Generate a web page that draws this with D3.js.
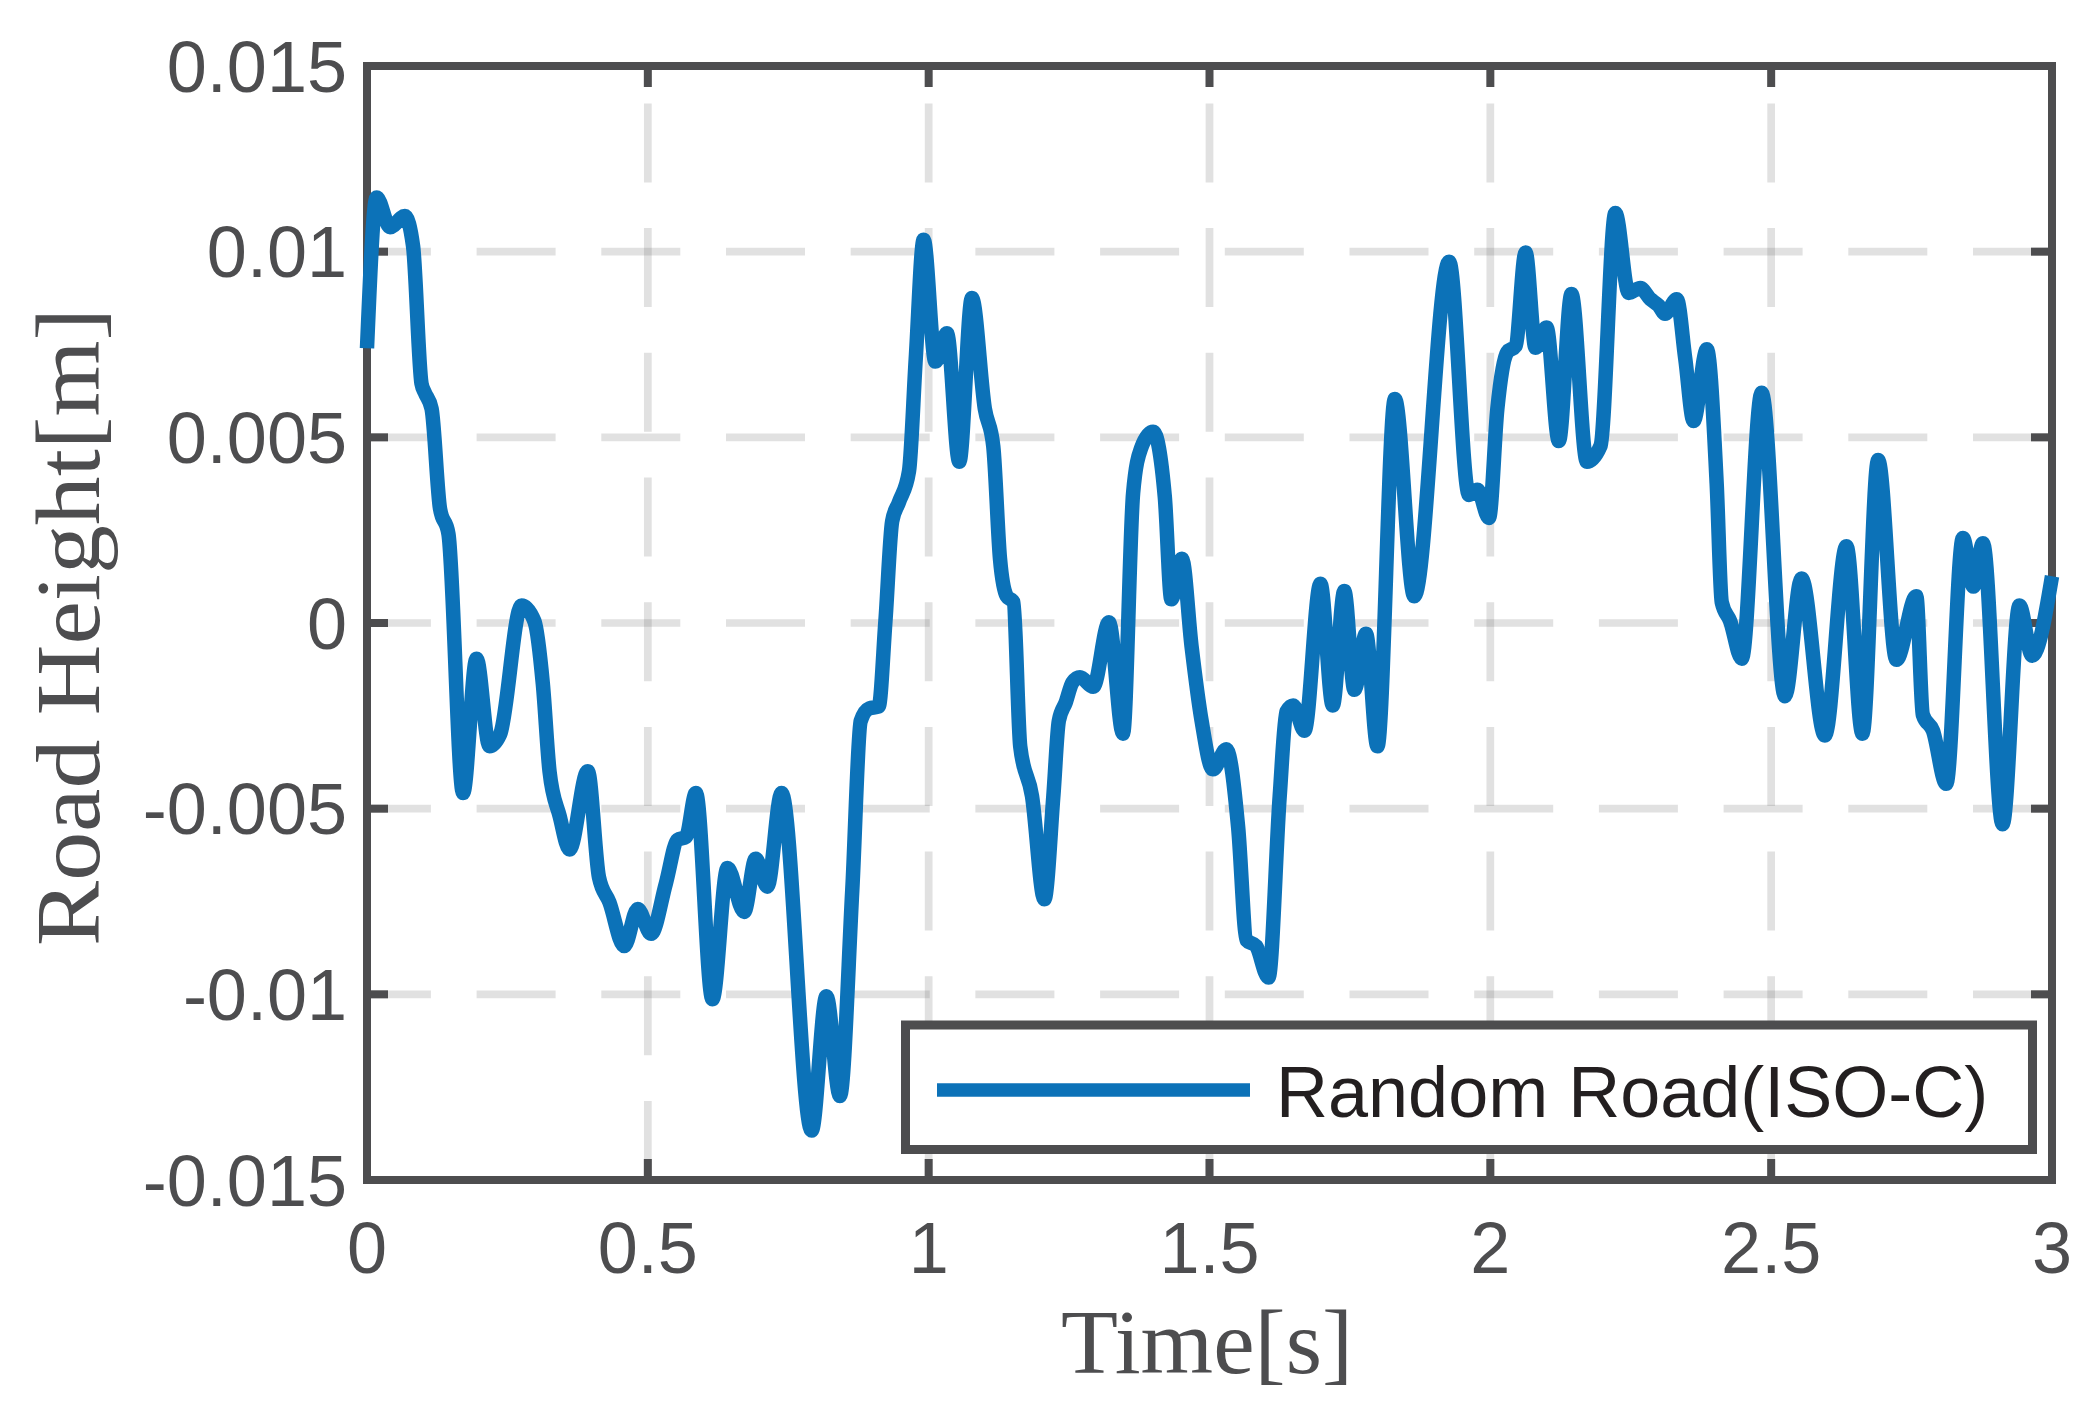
<!DOCTYPE html>
<html>
<head>
<meta charset="utf-8">
<script src="https://cdn.jsdelivr.net/npm/d3@7"></script>
<style>
  html, body { margin: 0; padding: 0; background: #ffffff; }
  svg { display: block; }
</style>
</head>
<body>
<svg id="chart" width="2085" height="1416"></svg>
<script>
// ---- data ----
const times = [0, 0.0172, 0.041, 0.0675, 0.082, 0.097, 0.103, 0.115, 0.13, 0.145, 0.171, 0.195, 0.218, 0.237,
  0.275, 0.298, 0.313, 0.325, 0.343, 0.3606, 0.393, 0.413, 0.4316, 0.458, 0.482, 0.5057, 0.532, 0.553, 0.568,
  0.5856, 0.615, 0.6418, 0.6714, 0.692, 0.7128, 0.738, 0.7916, 0.818, 0.842, 0.864, 0.879, 0.894, 0.911, 0.923,
  0.935, 0.947, 0.965, 0.977, 0.991, 1.012, 1.0325, 1.0545, 1.077, 1.1, 1.115, 1.127, 1.139, 1.151, 1.163, 1.184,
  1.206, 1.222, 1.2317, 1.244, 1.256, 1.2694, 1.293, 1.321, 1.346, 1.364, 1.378, 1.3996, 1.4204, 1.432, 1.451,
  1.468, 1.486, 1.506, 1.53, 1.551, 1.566, 1.583, 1.605, 1.625, 1.637, 1.649, 1.669, 1.6975, 1.7194, 1.74, 1.758,
  1.7786, 1.799, 1.83, 1.8645, 1.9266, 1.962, 1.977, 1.9976, 2.0125, 2.03, 2.045, 2.0627, 2.0805, 2.1, 2.122,
  2.1444, 2.172, 2.196, 2.2226, 2.2464, 2.267, 2.285, 2.2996, 2.311, 2.332, 2.347, 2.3618, 2.3855, 2.403, 2.412,
  2.427, 2.4476, 2.483, 2.5245, 2.554, 2.5956, 2.634, 2.6625, 2.6904, 2.723, 2.7584, 2.77, 2.788, 2.8117, 2.8414,
  2.86, 2.877, 2.912, 2.942, 2.9645, 3.0];
const heights = [0.0074, 0.01146, 0.01066, 0.01096, 0.01015, 0.00645, 0.0062, 0.00577, 0.00308, 0.0024, -0.00458,
  -0.00096, -0.00332, -0.0030, 0.00047, 0.00005, -0.00163, -0.0040, -0.0052, -0.0061, -0.00399, -0.00685, -0.00752,
  -0.0087, -0.0077, -0.00837, -0.00702, -0.00584, -0.00576, -0.00458, -0.01013, -0.0066, -0.00778, -0.00635,
  -0.0071, -0.00458, -0.01367, -0.01005, -0.01274, -0.00719, -0.00264, -0.0023, -0.00225, 0.00005, 0.00274,
  0.00325, 0.00409, 0.00712, 0.01032, 0.00704, 0.0078, 0.00434, 0.00875, 0.00577, 0.00476, 0.00173, 0.00072,
  0.00056, -0.00332, -0.00466, -0.00744, -0.00466, -0.00264, -0.00214, -0.0016, -0.00146, -0.00172, 0.00002,
  -0.00298, 0.0035, 0.0047, 0.00515, 0.0034, 0.00064, 0.00173, -0.00062, -0.00264, -0.00394, -0.0034, -0.0055,
  -0.00854, -0.0087, -0.00955, -0.00466, -0.00239, -0.00222, -0.0029, 0.00106, -0.00222, 0.00086, -0.0018,
  -0.00029, -0.00332, 0.00603, 0.00072, 0.00973, 0.00345, 0.00359, 0.00283, 0.00577, 0.00729, 0.00746, 0.00998,
  0.00741, 0.00796, 0.0049, 0.00886, 0.00434, 0.00476, 0.01104, 0.00889, 0.00902, 0.00872, 0.00855, 0.00833,
  0.00872, 0.00712, 0.00544, 0.00737, 0.00375, 0.00056, 0.00005, -0.00096, 0.0062, -0.00197, 0.0012, -0.00303,
  0.00207, -0.00298, 0.00439, -0.00099, 0.00072, -0.00247, -0.0029, -0.00433, 0.00229, 0.00098, 0.00215,
  -0.00542, 0.00047, -0.00088, 0.00126];
const xTicks = [0, 0.5, 1, 1.5, 2, 2.5, 3];
const xTickLabels = ["0", "0.5", "1", "1.5", "2", "2.5", "3"];
const yTicks = [-0.015, -0.01, -0.005, 0, 0.005, 0.01, 0.015];
const yTickLabels = ["-0.015", "-0.01", "-0.005", "0", "0.005", "0.01", "0.015"];
const seriesName = "Random Road(ISO-C)";
const xLabel = "Time[s]";
const yLabel = "Road Height[m]";

// ---- layout ----
const axisColor = "#4d4d4f";
const lineColor = "#0c72b8";
const L = 367, R = 2052, T = 66, B = 1180;

const svg = d3.select("#chart");
const x = d3.scaleLinear().domain([0, 3]).range([L, R]);
const y = d3.scaleLinear().domain([-0.015, 0.015]).range([B, T]);

// grid
const grid = svg.append("g").attr("stroke", axisColor).attr("stroke-opacity", 0.17)
  .attr("stroke-width", 7.7).attr("fill", "none").attr("stroke-dasharray", "79 45.7");
xTicks.filter(t => t > 0 && t < 3).forEach(t => {
  grid.append("line").attr("x1", x(t)).attr("x2", x(t)).attr("y1", B).attr("y2", T);
});
yTicks.filter(t => t > -0.015 && t < 0.015).forEach(t => {
  grid.append("line").attr("x1", R).attr("x2", L).attr("y1", y(t)).attr("y2", y(t));
});

// axes frame and ticks
const ax = svg.append("g").attr("stroke", axisColor).attr("stroke-width", 8).attr("fill", "none");
const tl = 21;
xTicks.forEach(t => {
  ax.append("line").attr("x1", x(t)).attr("x2", x(t)).attr("y1", B).attr("y2", B - tl);
  ax.append("line").attr("x1", x(t)).attr("x2", x(t)).attr("y1", T).attr("y2", T + tl);
});
yTicks.forEach(t => {
  ax.append("line").attr("x1", L).attr("x2", L + tl).attr("y1", y(t)).attr("y2", y(t));
  ax.append("line").attr("x1", R).attr("x2", R - tl).attr("y1", y(t)).attr("y2", y(t));
});
ax.append("rect").attr("x", L).attr("y", T).attr("width", R - L).attr("height", B - T)
  .attr("stroke-linejoin", "miter");

// tick labels
const tickFont = "'Liberation Sans', Arial, Helvetica, sans-serif";
svg.append("g").selectAll("text").data(xTicks).join("text")
  .attr("x", d => x(d)).attr("y", 1273)
  .attr("text-anchor", "middle")
  .attr("font-family", tickFont).attr("font-size", 72).attr("fill", axisColor)
  .text((d, i) => xTickLabels[i]);
svg.append("g").selectAll("text").data(yTicks).join("text")
  .attr("x", 347).attr("y", d => y(d)).attr("dy", "0.358em")
  .attr("text-anchor", "end")
  .attr("font-family", tickFont).attr("font-size", 72).attr("fill", axisColor)
  .text((d, i) => yTickLabels[i]);

// axis labels
const serif = "'Liberation Serif', 'DejaVu Serif', serif";
svg.append("text").attr("x", 1207).attr("y", 1373).attr("text-anchor", "middle")
  .attr("font-family", serif).attr("font-size", 92).attr("fill", axisColor)
  .attr("textLength", 292).attr("lengthAdjust", "spacingAndGlyphs")
  .text(xLabel);
svg.append("text").attr("transform", "translate(99,627) rotate(-90)").attr("text-anchor", "middle")
  .attr("font-family", serif).attr("font-size", 92).attr("fill", axisColor)
  .attr("textLength", 638).attr("lengthAdjust", "spacingAndGlyphs")
  .text(yLabel);

// data line
const data = times.map((t, i) => ({ t, v: heights[i] }));
const line = d3.line().x(d => x(d.t)).y(d => y(d.v)).curve(d3.curveMonotoneX);
svg.append("path").datum(data).attr("d", line)
  .attr("fill", "none").attr("stroke", lineColor).attr("stroke-width", 14.5)
  .attr("stroke-linejoin", "round");

// legend
const lg = svg.append("g");
lg.append("rect").attr("x", 905.5).attr("y", 1025).attr("width", 1127).attr("height", 124.5)
  .attr("fill", "#ffffff").attr("stroke", axisColor).attr("stroke-width", 9);
lg.append("line").attr("x1", 937).attr("x2", 1250).attr("y1", 1090).attr("y2", 1090)
  .attr("stroke", lineColor).attr("stroke-width", 13.5);
lg.append("text").attr("x", 1276).attr("y", 1117)
  .attr("font-family", tickFont).attr("font-size", 72).attr("fill", "#231f20")
  .text(seriesName);
</script>
</body>
</html>
